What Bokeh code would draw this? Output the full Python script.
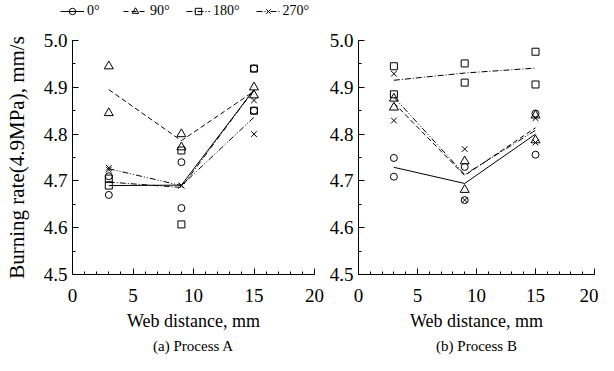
import numpy as np
from bokeh.plotting import figure
from bokeh.layouts import row, column
from bokeh.models import (Legend, LegendItem, Title, SingleIntervalTicker, Range1d,
                          PrintfTickFormatter)
from bokeh.embed import file_html
from bokeh.resources import INLINE

# ---- data ----
web = [3, 9, 15]
angles = ["0°", "90°", "180°", "270°"]

# Process A: two replicates per web distance
a_0 = [[4.71, 4.67], [4.74, 4.642], [4.94, 4.85]]
a_90 = [[4.945, 4.845], [4.80, 4.772], [4.90, 4.883]]
a_180 = [[4.705, 4.69], [4.765, 4.607], [4.94, 4.85]]
a_270 = [[4.728, 4.724], [4.69, 4.69], [4.872, 4.80]]

# Process B
b_0 = [[4.749, 4.709], [4.73, 4.659], [4.844, 4.756]]
b_90 = [[4.876, 4.857], [4.742, 4.681], [4.84, 4.787]]
b_180 = [[4.945, 4.885], [4.951, 4.91], [4.976, 4.906]]
b_270 = [[4.929, 4.829], [4.768, 4.659], [4.834, 4.782]]

FONT = "Liberation Serif"
markers = ["circle", "triangle", "square", "x"]
sizes = [7, 9, 7, 8]
dashes = ["solid", "5 3", "6 2 1 2", "6 2 1 2 1 2"]

LEG_H = 22
H = 355 - LEG_H
TOP = 18
BOTTOM = 77


def flat(data):
    xs, ys = [], []
    for xi, reps in zip(web, data):
        for v in reps:
            xs.append(xi)
            ys.append(v)
    return xs, ys


def make_panel(series, caption, width, bl, br, ylabel):
    p = figure(width=width, height=H, output_backend="svg", toolbar_location=None,
               x_range=Range1d(0, 20), y_range=Range1d(4.5, 5.0),
               min_border_left=bl, min_border_right=br,
               min_border_top=TOP, min_border_bottom=BOTTOM)
    p.outline_line_color = None
    p.xgrid.visible = False
    p.ygrid.visible = False
    p.background_fill_color = None
    p.border_fill_color = None

    for k, data in enumerate(series):
        xs, ys = flat(data)
        means = [float(np.mean(r)) for r in data]
        p.line(web, means, line_color="black", line_width=1, line_dash=dashes[k])
        p.scatter(xs, ys, marker=markers[k], size=sizes[k], fill_color=None,
                  line_color="black", line_width=1)

    p.xaxis.ticker = SingleIntervalTicker(interval=5, num_minor_ticks=5)
    p.yaxis.ticker = SingleIntervalTicker(interval=0.1, num_minor_ticks=2)
    p.yaxis.formatter = PrintfTickFormatter(format="%.1f")
    for ax in (p.xaxis, p.yaxis):
        ax.major_tick_in = 6
        ax.major_tick_out = 0
        ax.minor_tick_in = 3
        ax.minor_tick_out = 0
        ax.axis_line_color = "black"
        ax.major_tick_line_color = "black"
        ax.minor_tick_line_color = "black"
        ax.major_label_text_font = FONT
        ax.major_label_text_font_size = "19px"
        ax.major_label_text_color = "black"
        ax.axis_label_text_font = FONT
        ax.axis_label_text_font_style = "normal"
        ax.axis_label_text_color = "black"
    p.xaxis.axis_label_text_font_size = "18px"
    p.yaxis.axis_label_text_font_size = "21px"
    p.xaxis.major_label_standoff = 14
    p.xaxis.axis_label = "Web distance, mm"
    p.xaxis.axis_label_standoff = 6
    p.yaxis.major_label_standoff = 5
    if ylabel:
        p.yaxis.axis_label = ylabel
        p.yaxis.axis_label_standoff = 12

    p.add_layout(Title(text=caption, align="center", text_font=FONT,
                       text_font_size="15px", text_font_style="normal",
                       text_color="black", standoff=4), "below")
    return p


series_a = [a_0, a_90, a_180, a_270]
series_b = [b_0, b_90, b_180, b_270]

left = make_panel(series_a, "(a) Process A", 326, 72, 12, "Burning rate(4.9MPa), mm/s")
right = make_panel(series_b, "(b) Process B", 272, 30, 4, None)

# legend strip on top: same series, with ranges that keep the marks out of view
lf = figure(width=598, height=LEG_H, output_backend="svg", toolbar_location=None,
            x_axis_type=None, y_axis_type=None,
            x_range=Range1d(-200, -100), y_range=Range1d(-200, -100),
            min_border=0, min_border_left=0, min_border_right=0, min_border_top=0,
            min_border_bottom=0)
lf.outline_line_color = None
lf.xgrid.visible = False
lf.ygrid.visible = False
lf.background_fill_color = None
lf.border_fill_color = None
items = []
for k, data in enumerate(series_a):
    xs, ys = flat(data)
    lr = lf.line(web, [float(np.mean(r)) for r in data], line_color="black",
                 line_width=1, line_dash=dashes[k])
    sr = lf.scatter(xs, ys, marker=markers[k], size=sizes[k] - 1, fill_color=None,
                    line_color="black", line_width=1)
    items.append(LegendItem(label=angles[k], renderers=[lr, sr]))
lg = Legend(items=items, orientation="horizontal", location=(60, 3),
            background_fill_alpha=0, border_line_alpha=0, padding=0, margin=0,
            spacing=16, glyph_width=24, glyph_height=16, label_height=16,
            label_standoff=3, label_text_font=FONT, label_text_font_size="14px",
            label_text_color="black")
lf.add_layout(lg, "center")

layout = column(lf, row(left, right))
open("out.html", "w").write(file_html(layout, INLINE))
